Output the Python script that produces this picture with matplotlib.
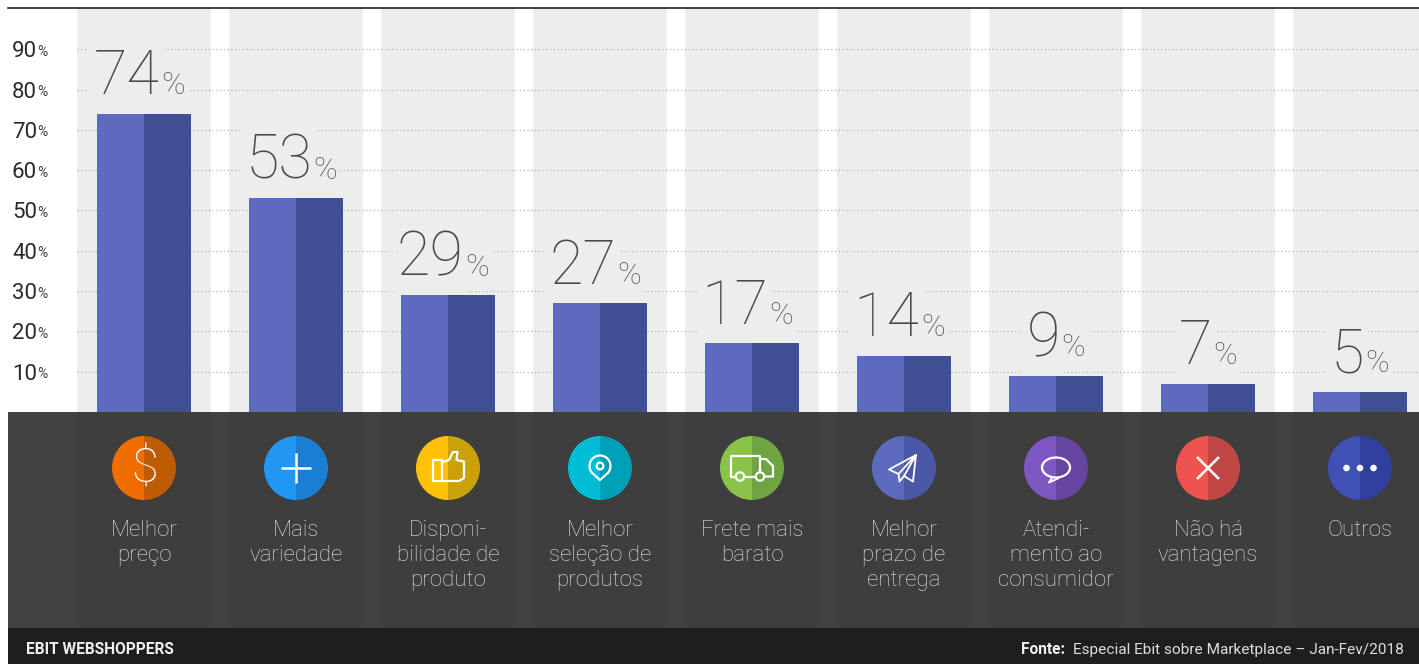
import numpy as np
import matplotlib
matplotlib.use("Agg")
import matplotlib.pyplot as plt
from matplotlib.patches import Circle, Ellipse, Polygon, Rectangle, Wedge

# Survey answers, in percent
categories = ["Melhor\npreço", "Mais\nvariedade", "Disponi-\nbilidade de\nproduto",
              "Melhor\nseleção de\nprodutos", "Frete mais\nbarato", "Melhor\nprazo de\nentrega",
              "Atendi-\nmento ao\nconsumidor", "Não há\nvantagens", "Outros"]
values = [74, 53, 29, 27, 17, 14, 9, 7, 5]
tick_values = [10, 20, 30, 40, 50, 60, 70, 80, 90]
icon_light = ["#ef6c00", "#2196f3", "#ffc107", "#00bcd4", "#8bc34a", "#5c6bc0", "#7e57c2", "#ef5350", "#3f51b5"]
icon_dark = ["#bf5c03", "#1a7fd4", "#cba108", "#009fb8", "#70a440", "#4a58a5", "#65459f", "#c14745", "#2f3f9b"]
footer_left = "EBIT WEBSHOPPERS"
footer_bold = "Fonte:"
footer_right = "Especial Ebit sobre Marketplace – Jan-Fev/2018"

W, H = 1419, 664
plt.rcParams["font.family"] = ["Roboto", "DejaVu Sans"]
PX = 0.72  # points per pixel at dpi 100

fig = plt.figure(figsize=(W / 100, H / 100), dpi=100, facecolor="white")

# Chart area: x is the category index, y is percent
ax = fig.add_axes([77 / W, (H - 412) / H, (W - 77) / W, 404 / H])
ax.set_facecolor("none")
ax.set_xlim((77 - 144) / 152, (W - 144) / 152)
ax.set_ylim(0, 404 / 4.03)
x = np.arange(len(values))
half = 47 / 152

ax.bar(x, ax.get_ylim()[1], width=134 / 152, color="#ededed", zorder=1)
ax.hlines(tick_values, ax.get_xlim()[0], ax.get_xlim()[1], color="#b5b5b5", lw=0.9,
          linestyles=(0, (1, 2)), zorder=2)
ax.bar(x - half / 2, values, width=half, color="#5c6bc0", zorder=3)
ax.bar(x + half / 2, values, width=half, color="#3f4f93", zorder=3)

for i, v in enumerate(values):
    # number and sign sit together, centred over the bar
    shift = 16 if v >= 10 else 4
    ax.annotate(str(v), (i, v), xytext=(shift * PX, 19.5 * PX), textcoords="offset points",
                ha="right", va="baseline", fontsize=44, fontweight="light", color="#4a4a4a", zorder=4,
                bbox=dict(fc="#ededed", ec="none", pad=3))
    ax.annotate("%", (i, v), xytext=((shift + 1) * PX, 19.5 * PX), textcoords="offset points",
                ha="left", va="baseline", fontsize=23, fontweight="light", color="#5e5e5e", zorder=4,
                bbox=dict(fc="#ededed", ec="none", pad=2))

ax.set_xticks([])
ax.set_yticks(tick_values)
ax.set_yticklabels([str(t) for t in tick_values], fontsize=16, color="#2b2b2b")
ax.tick_params(axis="y", length=0, pad=40 * PX)
for s in ax.spines.values():
    s.set_visible(False)
for t in tick_values:
    ax.annotate("%", (0, t), xycoords=("axes fraction", "data"), xytext=(-39.5 * PX, -6.5 * PX),
                textcoords="offset points", ha="left", va="baseline", fontsize=10, color="#444444")

# Everything below the bars is laid out in pixels
pan = fig.add_axes([0, 0, 1, 1], zorder=5)
pan.set_xlim(0, W)
pan.set_ylim(H, 0)
pan.axis("off")
pan.patch.set_visible(False)

pan.plot([8, W], [7.5, 7.5], color="#111111", lw=1.1)
pan.add_patch(Rectangle((8, 412), W - 8, 216, fc="#424242", ec="none"))
pan.add_patch(Rectangle((8, 628), W - 8, 36, fc="#1e1e1e", ec="none"))


def stroke(pts, cx, cy=468, lw=1.6, close=False, fc="none"):
    # icon outlines are given in pixels around the circle centre
    pts = np.asarray(pts, dtype=float) + [cx, cy]
    pan.add_patch(Polygon(pts, closed=close, fc=fc, ec="white", lw=lw, joinstyle="round", zorder=4))


def draw_icon(i, cx):
    cy = 468
    if i == 0:
        pan.text(cx, cy + 1, "$", color="white", fontsize=35, fontweight="light",
                 ha="center", va="center", zorder=4)
    elif i == 1:
        stroke([(-15, 0), (15, 0)], cx, lw=1.8)
        stroke([(0, -15), (0, 15)], cx, lw=1.8)
    elif i == 2:
        stroke([(-15.5, -8.5), (-6, -8.5), (-6, 12.7), (-15.5, 12.7)], cx, close=True)
        stroke([(-6, -6), (1, -8), (5, -16), (9.5, -16), (8.5, -8), (16, -6.5), (16, 10),
                (11, 13), (-6, 13)], cx)
    elif i == 3:
        t = np.radians(np.linspace(-40, 220, 40))
        head = np.column_stack([10.5 * np.cos(t), -2 - 10.5 * np.sin(t)])
        stroke(np.vstack([head, [(0, 12)]]), cx, close=True)
        pan.add_patch(Circle((cx, cy - 2), 3.4, fc="none", ec="white", lw=1.6, zorder=4))
    elif i == 4:
        stroke([(-21, 8.5), (-21, -12.5), (7.5, -12.5), (7.5, 8.5)], cx, close=True)
        stroke([(7.5, -9), (14, -9), (21, -2), (21, 8.5), (7.5, 8.5)], cx)
        pan.add_patch(Circle((cx - 12, cy + 8.5), 4.2, fc=icon_light[i], ec="white", lw=1.6, zorder=5))
        pan.add_patch(Circle((cx + 8, cy + 8.5), 4.2, fc=icon_dark[i], ec="white", lw=1.6, zorder=5))
    elif i == 5:
        stroke([(12, -13), (-15, 1.5), (-5.5, 6), (12, -13)], cx, lw=1.3, close=True)
        stroke([(-5.5, 6), (-4.5, 13.5), (0, 8), (9, 13.5), (12, -13), (0, 8)], cx, lw=1.3)
    elif i == 6:
        pan.add_patch(Ellipse((cx, cy - 0.5), 28, 20, fc="none", ec="white", lw=1.6, zorder=4))
        stroke([(-4, 10), (-7, 14.5), (3, 10)], cx, lw=1.4)
    elif i == 7:
        stroke([(-11, -11), (11, 11)], cx, lw=1.8)
        stroke([(-11, 11), (11, -11)], cx, lw=1.8)
    else:
        for dx in (-13.5, 0, 13.5):
            pan.add_patch(Circle((cx + dx, cy), 3.3, fc="white", ec="none", zorder=4))


for i, label in enumerate(categories):
    cx = 144 + 152 * i
    pan.add_patch(Rectangle((cx - 67, 412), 134, 216, fc="#3e3e3e", ec="none", zorder=1))
    pan.add_patch(Wedge((cx, 468), 32, 90, 270, fc=icon_light[i], ec="none", zorder=3))
    pan.add_patch(Wedge((cx, 468), 32, 270, 450, fc=icon_dark[i], ec="none", zorder=3))
    draw_icon(i, cx)
    pan.text(cx, 520, label, color="#e3e3e3", fontsize=16, fontweight="light",
             ha="center", va="top", linespacing=1.235, zorder=4)

pan.text(26, 650, footer_left, color="#efefef", fontsize=11.2, fontweight="bold", va="center", zorder=4)
pan.text(1404, 650, footer_right, color="#dddddd", fontsize=11.1, ha="right", va="center", zorder=4)
pan.text(1065, 650, footer_bold, color="#efefef", fontsize=11.2, fontweight="bold", ha="right", va="center", zorder=4)

fig.savefig("out.png", dpi=100)
